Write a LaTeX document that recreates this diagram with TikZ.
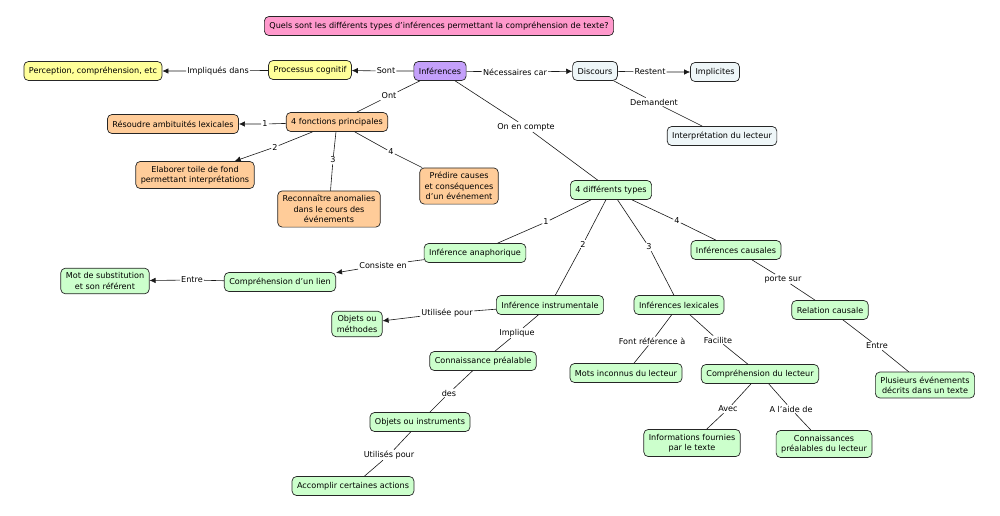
\documentclass[tikz,border=0pt]{standalone}
\usepackage{fontspec}
\setmainfont{DejaVu Sans}
\usetikzlibrary{arrows.meta}
\definecolor{mpink}{RGB}{255,153,204}
\definecolor{mpurple}{RGB}{196,160,250}
\definecolor{myellow}{RGB}{255,255,153}
\definecolor{morange}{RGB}{255,204,153}
\definecolor{mgreen}{RGB}{204,255,204}
\definecolor{mgrey}{RGB}{238,246,248}

\begin{document}
\begin{tikzpicture}[x=1pt,y=-1pt]
  \tikzset{concept/.style={draw=black!85,line width=0.7pt,rounded corners=4.5pt,fill=#1,align=center,inner xsep=5pt,inner ysep=4.5pt,minimum height=19pt,font=\fontsize{8.1}{10.3}\selectfont},
    link/.style={fill=white,inner sep=1pt,font=\fontsize{8.1}{9}\selectfont},
    line/.style={draw=black!90,line width=0.6pt},
    arrow/.style={line,-{Latex[length=6pt,width=5.5pt]}}}
  \useasboundingbox (0,0) rectangle (1000,515);

  \node [concept = mpink] (question) at (439,26) {Quels sont les différents types d'inférences permettant la compréhension de texte?};

  % top row
  \node [concept = mpurple] (inf) at (440,71) {Inférences};
  \node [concept = myellow] (proc) at (310,70) {Processus cognitif};
  \node [concept = myellow] (perc) at (93,71) {Perception, compréhension, etc};
  \node [concept = mgrey] (disc) at (595,71) {Discours};
  \node [concept = mgrey] (impl) at (715,72) {Implicites};
  \node [concept = mgrey] (interp) at (722,136) {Interprétation du lecteur};

  % fonctions
  \node [concept = morange] (fonct) at (337,122) {4 fonctions principales};
  \node [concept = morange] (resoudre) at (173,124) {Résoudre ambituités lexicales};
  \node [concept = morange] (elaborer) at (195,175) {Elaborer toile de fond\\permettant interprétations};
  \node [concept = morange] (reconn) at (329,209) {Reconnaître anomalies\\dans le cours des\\événements};
  \node [concept = morange] (predire) at (459,186) {Prédire causes\\et conséquences\\d'un événement};

  % types
  \node [concept = mgreen] (types) at (611,190) {4 différents types};
  \node [concept = mgreen] (anaph) at (475,253) {Inférence anaphorique};
  \node [concept = mgreen] (lien) at (280,282) {Compréhension d'un lien};
  \node [concept = mgreen] (mot) at (105,281) {Mot de substitution\\et son référent};
  \node [concept = mgreen] (instr) at (550,305) {Inférence instrumentale};
  \node [concept = mgreen] (objmeth) at (357,324) {Objets ou\\méthodes};
  \node [concept = mgreen] (connais) at (483,361) {Connaissance préalable};
  \node [concept = mgreen] (objinst) at (420,422) {Objets ou instruments};
  \node [concept = mgreen] (accomp) at (353,486) {Accomplir certaines actions};
  \node [concept = mgreen] (lex) at (679,305) {Inférences lexicales};
  \node [concept = mgreen] (mots) at (626,373) {Mots inconnus du lecteur};
  \node [concept = mgreen] (complect) at (760,374) {Compréhension du lecteur};
  \node [concept = mgreen] (infos) at (692,443) {Informations fournies\\par le texte};
  \node [concept = mgreen] (prealab) at (824,444) {Connaissances\\préalables du lecteur};
  \node [concept = mgreen] (caus) at (736,250) {Inférences causales};
  \node [concept = mgreen] (rel) at (830,310) {Relation causale};
  \node [concept = mgreen] (plus) at (925,385) {Plusieurs événements\\décrits dans un texte};

  % linking phrases
  \node [link] (lSont) at (386,71) {Sont};
  \node [link] (lImpl) at (218,71) {Impliqués dans};
  \node [link] (lNec) at (515,72) {Nécessaires car};
  \node [link] (lRest) at (650,72) {Restent};
  \node [link] (lDem) at (654,102) {Demandent};
  \node [link] (lOnt) at (389,96) {Ont};
  \node [link] (lCompte) at (526,127) {On en compte};
  \node [link] (f1) at (265,124) {1};
  \node [link] (f2) at (275,147) {2};
  \node [link] (f3) at (333,160) {3};
  \node [link] (f4) at (391,152) {4};
  \node [link] (t1) at (546,222) {1};
  \node [link] (t2) at (583,244) {2};
  \node [link] (t3) at (649,247) {3};
  \node [link] (t4) at (677,221) {4};
  \node [link] (lCons) at (383,265) {Consiste en};
  \node [link] (lEntre) at (192,280) {Entre};
  \node [link] (lUtil) at (447,313) {Utilisée pour};
  \node [link] (lImpliq) at (517,333) {Implique};
  \node [link] (lDes) at (449,393) {des};
  \node [link] (lUtils) at (389,455) {Utilisés pour};
  \node [link] (lFont) at (652,341) {Font référence à};
  \node [link] (lFac) at (718,340) {Facilite};
  \node [link] (lAvec) at (728,409) {Avec};
  \node [link] (lAide) at (791,409) {A l'aide de};
  \node [link] (lPorte) at (783,279) {porte sur};
  \node [link] (lEntreB) at (877,346) {Entre};

  % connectors with arrow
  \foreach \a/\l/\b in {inf/lSont/proc, proc/lImpl/perc, inf/lNec/disc, disc/lRest/impl,
      fonct/f1/resoudre, fonct/f2/elaborer, anaph/lCons/lien, lien/lEntre/mot, instr/lUtil/objmeth}
    \draw [arrow] (\a) -- (\l) -- (\b);

  % plain connectors
  \foreach \a/\l/\b in {disc/lDem/interp, inf/lOnt/fonct, inf/lCompte/types, fonct/f3/reconn,
      fonct/f4/predire, types/t1/anaph, types/t2/instr, types/t3/lex, types/t4/caus,
      instr/lImpliq/connais, connais/lDes/objinst, objinst/lUtils/accomp, lex/lFont/mots,
      lex/lFac/complect, complect/lAvec/infos, complect/lAide/prealab, caus/lPorte/rel, rel/lEntreB/plus}
    \draw [line] (\a) -- (\l) -- (\b);
\end{tikzpicture}
\end{document}
